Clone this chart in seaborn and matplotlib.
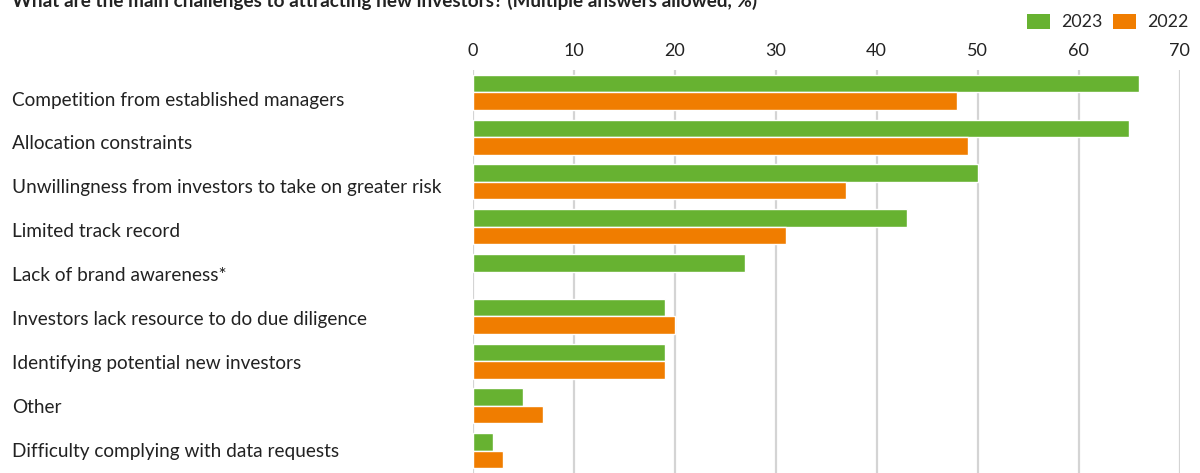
import matplotlib
matplotlib.use("Agg")
import matplotlib.pyplot as plt
import matplotlib.transforms as mtransforms
from matplotlib.patches import Patch
import seaborn as sns
import pandas as pd

categories = [
    "Competition from established managers",
    "Allocation constraints",
    "Unwillingness from investors to take on greater risk",
    "Limited track record",
    "Lack of brand awareness*",
    "Investors lack resource to do due diligence",
    "Identifying potential new investors",
    "Other",
    "Difficulty complying with data requests",
]
values_2023 = [66, 65, 50, 43, 27, 19, 19, 5, 2]
values_2022 = [48, 49, 37, 31, None, 20, 19, 7, 3]
years = ["2023", "2022"]
x_ticks = [0, 10, 20, 30, 40, 50, 60, 70]
title = "What are the main challenges to attracting new investors? (Multiple answers allowed, %)"

colors = {"2023": "#67B231", "2022": "#F07D00"}

df = pd.DataFrame({
    "category": categories * 2,
    "year": ["2023"] * len(categories) + ["2022"] * len(categories),
    "value": values_2023 + values_2022,
})

sns.set_theme(style="white")
plt.rcParams["font.family"] = ["Lato", "DejaVu Sans"]

fig = plt.figure(figsize=(12, 4.73), dpi=100)
ax = fig.add_axes([0.394, 0.0, 0.589, 0.852])

sns.barplot(data=df, y="category", x="value", hue="year", order=categories,
            hue_order=years, palette=colors, orient="h", width=0.78,
            saturation=1, legend=False, ax=ax)

ax.set_xlim(0, 70)
ax.set_ylim(len(categories) - 0.5, -0.5)
ax.set_xticks(x_ticks)
ax.xaxis.tick_top()
ax.tick_params(axis="x", length=0, pad=8, labelsize=13, colors="#222222")
ax.set_xlabel("")
ax.set_ylabel("")
ax.set_yticks([])
ax.grid(axis="x", color="#d4d4d4", linewidth=1.6)
ax.set_axisbelow(True)
for s in ax.spines.values():
    s.set_visible(False)

# category labels, left-aligned at the figure edge
trans = mtransforms.blended_transform_factory(fig.transFigure, ax.transData)
for i, cat in enumerate(categories):
    ax.text(0.010, i + 0.17 - 0.018 * i, cat, transform=trans, ha="left",
            va="center", fontsize=13.7, color="#222222")

fig.text(0.010, 0.985, title, ha="left", va="baseline", fontsize=13.6,
         fontweight="bold", color="#222222")

handles = [Patch(facecolor=colors[y], edgecolor="none", label=y) for y in years]
fig.legend(handles=handles, loc="upper right", bbox_to_anchor=(1.004, 1.005),
           ncol=2, frameon=False, fontsize=12.8, handlelength=1.3,
           handleheight=0.95, columnspacing=0.55, handletextpad=0.65)

fig.savefig("out.png", dpi=100)
